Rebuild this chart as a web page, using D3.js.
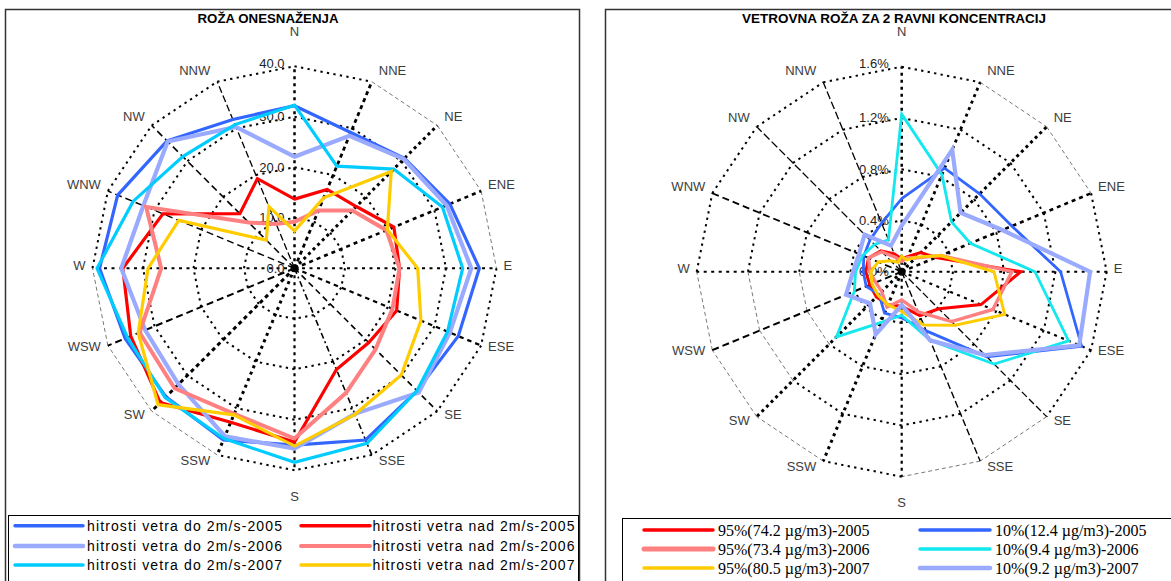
<!DOCTYPE html>
<html>
<head>
<meta charset="utf-8">
<script src="https://cdn.jsdelivr.net/npm/d3@7"></script>
<style>
  html, body { margin: 0; padding: 0; background: #fff; }
  svg { display: block; }
  text { font-family: "Liberation Sans", Arial, sans-serif; }
</style>
</head>
<body>
<svg id="chart" width="1171" height="581"></svg>
<script>
// ---- data -----------------------------------------------------------
const directions = ["N","NNE","NE","ENE","E","ESE","SE","SSE","S","SSW","SW","WSW","W","WNW","NW","NNW"];

// left rose: pollution rose (µg/m3)
const pollutionTicks = [0, 10, 20, 30, 40];
const pollutionTickLabels = ["0.0", "10.0", "20.0", "30.0", "40.0"];
const below2_2005 = [32.2, 29.1, 30.8, 33.3, 36.6, 35.1, 34.3, 36.8, 35.0, 36.8, 36.0, 36.3, 38.6, 37.9, 35.7, 31.9];
const below2_2006 = [22.1, 28.4, 30.6, 32.6, 35.0, 33.3, 34.8, 31.2, 35.7, 36.0, 32.5, 32.0, 34.3, 32.4, 35.5, 30.3];
const below2_2007 = [32.3, 21.9, 27.8, 31.7, 33.3, 32.8, 34.3, 37.5, 38.4, 36.5, 36.2, 35.8, 39.1, 34.6, 31.3, 30.8];
const above2_2005 = [13.7, 16.9, 17.3, 21.3, 20.8, 21.9, 20.8, 21.7, 34.4, 33.0, 37.6, 35.1, 34.0, 28.2, 15.3, 19.2];
const above2_2006 = [9.2, 12.4, 16.2, 19.7, 20.8, 21.0, 22.7, 26.7, 33.7, 31.2, 33.6, 33.2, 26.4, 31.8, 12.8, 9.5];
const above2_2007 = [7.4, 15.1, 27.1, 19.9, 24.4, 27.1, 29.9, 31.3, 35.2, 31.4, 38.2, 33.5, 29.0, 24.8, 7.9, 13.2];
const pollutionNames = [
  "hitrosti vetra do 2m/s-2005", "hitrosti vetra nad 2m/s-2005",
  "hitrosti vetra do 2m/s-2006", "hitrosti vetra nad 2m/s-2006",
  "hitrosti vetra do 2m/s-2007", "hitrosti vetra nad 2m/s-2007"
];

// right rose: wind frequency (%) for two concentration levels
const concTicks = [0, 0.4, 0.8, 1.2, 1.6];
const concTickLabels = ["0.0%", "0.4%", "0.8%", "1.2%", "1.6%"];
const p95_2005 = [0.10, 0.13, 0.21, 0.29, 0.93, 0.67, 0.41, 0.37, 0.27, 0.28, 0.28, 0.27, 0.28, 0.28, 0.23, 0.15];
const p95_2006 = [0.08, 0.12, 0.15, 0.33, 0.86, 0.77, 0.55, 0.34, 0.22, 0.30, 0.22, 0.22, 0.25, 0.28, 0.22, 0.12];
const p95_2007 = [0.12, 0.10, 0.16, 0.33, 0.72, 0.87, 0.59, 0.45, 0.31, 0.28, 0.26, 0.25, 0.24, 0.20, 0.12, 0.08];
const p10_2005 = [0.57, 0.875, 0.86, 0.93, 1.24, 1.52, 0.94, 0.50, 0.36, 0.35, 0.25, 0.30, 0.30, 0.32, 0.35, 0.41];
const p10_2006 = [1.23, 0.82, 0.55, 0.58, 1.04, 1.41, 1.02, 0.58, 0.34, 0.43, 0.72, 0.40, 0.36, 0.33, 0.30, 0.27];
const p10_2007 = [0.36, 1.03, 0.65, 0.85, 1.47, 1.50, 0.92, 0.58, 0.26, 0.53, 0.35, 0.47, 0.38, 0.36, 0.41, 0.22];
const concNames = [
  "95%(74.2 \u00b5g/m3)-2005", "10%(12.4 \u00b5g/m3)-2005",
  "95%(73.4 \u00b5g/m3)-2006", "10%(9.4 \u00b5g/m3)-2006",
  "95%(80.5 \u00b5g/m3)-2007", "10%(9.2 \u00b5g/m3)-2007"
];

// ---- drawing --------------------------------------------------------
const svg = d3.select("#chart");
const C = {
  blue: "#3366ff", lav: "#99aaff", sky: "#00ccff", aqua: "#12e8ee",
  red: "#ff0000", salmon: "#ff8080", gold: "#ffcc00"
};

// spoke line styles [width, dasharray]
const spokesLeft = [
  [2.5,"3,4"],[2.8,"4,3.5"],[3,"3,3.5"],[2.6,"4,4"],[2,"3,4.5"],[2.2,"4.5,4"],[1.6,"6,4"],[1.6,"6,3,2,3"],
  [2.2,"3,4"],[3,"3,4"],[3,"4,3.5"],[2,"7,4"],[2,"3,4.5"],[1.4,"7,4"],[1.6,"7,4"],[1.3,"7,3"]
];
const spokesRight = [
  [2.5,"3,4"],[2.8,"3,4"],[3,"3,3.5"],[2.6,"4,4"],[2,"3,4.5"],[2.2,"3,4.5"],[1.3,"7,3"],[1.4,"7,3"],
  [2.2,"3,4"],[3,"3,4"],[3,"3,3.5"],[2,"7,4"],[2,"3,4.5"],[1.8,"7,4"],[1.3,"8,3"],[1.3,"8,3"]
];

function drawRadar(opt) {
  const n = directions.length;
  const r = d3.scaleLinear().domain([0, opt.max]).range([0, opt.R]);
  const a = d3.scaleLinear().domain([0, n]).range([0, 2 * Math.PI]);
  const pt = (i, v) => [Math.sin(a(i)) * r(v), -Math.cos(a(i)) * r(v)];
  const g = svg.append("g").attr("transform", `translate(${opt.cx},${opt.cy})`);

  // concentric 16-gons
  const grid = g.append("g");
  opt.ticks.slice(1).forEach((t, k) => {
    for (let i = 0; i < n; i++) {
      const p0 = pt(i, t), p1 = pt((i + 1) % n, t);
      const thin = opt.thinRing.has(`${k}-${i}`);
      grid.append("line")
        .attr("x1", p0[0]).attr("y1", p0[1]).attr("x2", p1[0]).attr("y2", p1[1])
        .attr("stroke", thin ? "#555" : "#000")
        .attr("stroke-width", thin ? 0.8 : 2)
        .attr("stroke-dasharray", thin ? "4,3" : "2.3,4.3");
    }
  });
  // spokes
  directions.forEach((d, i) => {
    const p = pt(i, opt.max);
    grid.append("line")
      .attr("x1", 0).attr("y1", 0).attr("x2", p[0]).attr("y2", p[1])
      .attr("stroke", "#000")
      .attr("stroke-width", opt.spokes[i][0])
      .attr("stroke-dasharray", opt.spokes[i][1]);
  });
  grid.append("circle").attr("r", 4).attr("fill", "#000");

  // radial tick labels
  opt.ticks.forEach((t, k) => {
    g.append("text")
      .attr("x", opt.tickX)
      .attr("y", -r(t) - (k === opt.ticks.length - 1 ? 3 : 0))
      .attr("text-anchor", "end")
      .attr("dominant-baseline", "central")
      .attr("font-size", 13)
      .attr("fill", "#222")
      .text(opt.tickLabels[k]);
  });

  // compass labels
  directions.forEach((d, i) => {
    const th = a(i), s = Math.sin(th), c = Math.cos(th);
    const p = pt(i, opt.max);
    const t = g.append("text")
      .attr("text-anchor", "middle")
      .attr("dominant-baseline", "central")
      .attr("font-size", 13)
      .attr("fill", "#3c3c3c")
      .text(d);
    const w = t.node().getComputedTextLength();
    let x, y;
    if (Math.abs(s) < 1e-6) { x = p[0]; y = c > 0 ? p[1] - 35 : p[1] + 26; }
    else { x = p[0] + Math.sign(s) * (w / 2 + 7); y = p[1] - 3 - 9 * c; }
    t.attr("x", x).attr("y", y);
  });

  // data polygons
  const line = d3.lineRadial()
    .angle((d, i) => a(i))
    .radius(d => r(d))
    .curve(d3.curveLinearClosed);
  opt.series.forEach(s => {
    g.append("path")
      .attr("d", line(s.values))
      .attr("fill", "none")
      .attr("stroke", s.color)
      .attr("stroke-width", s.width)
      .attr("stroke-linejoin", "miter");
  });

  // title
  svg.append("text")
    .attr("x", opt.titleX - opt.titleW / 2).attr("y", 19)
    .attr("dominant-baseline", "central")
    .attr("font-size", 12).attr("font-weight", "bold")
    .attr("textLength", opt.titleW).attr("lengthAdjust", "spacingAndGlyphs")
    .attr("fill", "#000")
    .text(opt.title);
}

function drawLegend(opt) {
  svg.append("rect")
    .attr("x", opt.x).attr("y", opt.y).attr("width", opt.w).attr("height", opt.h)
    .attr("fill", "#fff").attr("stroke", "#000").attr("stroke-width", 1);
  opt.items.forEach((it, k) => {
    const col = k % 2, row = Math.floor(k / 2);
    const y = opt.rows[row];
    svg.append("line")
      .attr("x1", opt.lineX[col][0]).attr("x2", opt.lineX[col][1])
      .attr("y1", y).attr("y2", y)
      .attr("stroke", it.color).attr("stroke-width", it.lw)
      .attr("stroke-linecap", "round");
    const t = svg.append("text")
      .attr("x", opt.textX[col]).attr("y", y)
      .attr("dominant-baseline", "central")
      .attr("font-size", opt.fontSize)
      .attr("fill", "#000")
      .style("font-family", opt.font)
      .text(it.label);
    if (opt.textLen) t.attr("textLength", opt.textLen[col]).attr("lengthAdjust", "spacing");
  });
}

// panel frames
svg.append("rect").attr("x", 5.5).attr("y", 9.5).attr("width", 574).attr("height", 600)
  .attr("fill", "none").attr("stroke", "#333").attr("stroke-width", 1.5);
svg.append("rect").attr("x", 605.5).attr("y", 9.5).attr("width", 600).attr("height", 600)
  .attr("fill", "none").attr("stroke", "#333").attr("stroke-width", 1.5);

drawRadar({
  cx: 294.5, cy: 268.3, R: 202, max: 40,
  ticks: pollutionTicks, tickLabels: pollutionTickLabels, tickX: -10,
  spokes: spokesLeft,
  thinRing: new Set(["3-1","3-2","3-3","3-9","3-10","3-11"]),
  title: "ROŽA ONESNAŽENJA", titleX: 268, titleW: 141,
  series: [
    { values: below2_2005, color: C.blue, width: 3.2 },
    { values: above2_2005, color: C.red, width: 3.2 },
    { values: below2_2006, color: C.lav, width: 4.2 },
    { values: above2_2006, color: C.salmon, width: 4 },
    { values: below2_2007, color: C.sky, width: 3.2 },
    { values: above2_2007, color: C.gold, width: 3.2 }
  ]
});

drawRadar({
  cx: 901.7, cy: 271.7, R: 205, max: 1.6,
  ticks: concTicks, tickLabels: concTickLabels, tickX: -13,
  spokes: spokesRight,
  thinRing: new Set(["3-1","3-2","3-6","3-7","3-9","3-10","3-11","2-10","2-11","1-10","1-11"]),
  title: "VETROVNA ROŽA ZA 2 RAVNI KONCENTRACIJ", titleX: 894, titleW: 304,
  series: [
    { values: p95_2005, color: C.red, width: 3 },
    { values: p10_2005, color: C.blue, width: 2.8 },
    { values: p95_2006, color: C.salmon, width: 3.4 },
    { values: p10_2006, color: C.aqua, width: 2.8 },
    { values: p95_2007, color: C.gold, width: 3 },
    { values: p10_2007, color: C.lav, width: 4.2 }
  ]
});

drawLegend({
  x: 8.5, y: 515.5, w: 570, h: 80,
  rows: [525.7, 546, 565],
  lineX: [[15, 83], [301, 370]],
  textX: [87, 372.5],
  textLen: [195, 202],
  fontSize: 14, font: "'Liberation Sans', Arial, sans-serif",
  items: [
    { label: pollutionNames[0], color: C.blue, lw: 3.5 },
    { label: pollutionNames[1], color: C.red, lw: 3.5 },
    { label: pollutionNames[2], color: C.lav, lw: 4.5 },
    { label: pollutionNames[3], color: C.salmon, lw: 4 },
    { label: pollutionNames[4], color: C.sky, lw: 3.5 },
    { label: pollutionNames[5], color: C.gold, lw: 3.5 }
  ]
});

drawLegend({
  x: 622.5, y: 518.5, w: 600, h: 80,
  rows: [530, 549, 568],
  lineX: [[644, 713], [920, 990]],
  textX: [718, 995],
  fontSize: 16, font: "'Liberation Serif', 'Times New Roman', serif",
  items: [
    { label: concNames[0], color: C.red, lw: 3.5 },
    { label: concNames[1], color: C.blue, lw: 3.5 },
    { label: concNames[2], color: C.salmon, lw: 5 },
    { label: concNames[3], color: C.aqua, lw: 3.5 },
    { label: concNames[4], color: C.gold, lw: 3.5 },
    { label: concNames[5], color: C.lav, lw: 4.5 }
  ]
});
</script>
</body>
</html>
